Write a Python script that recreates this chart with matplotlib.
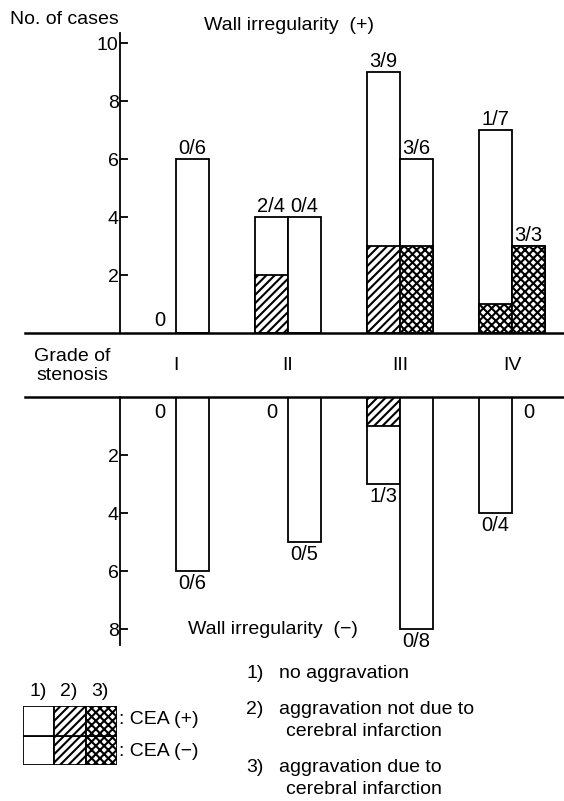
import matplotlib.pyplot as plt
from matplotlib.patches import Rectangle

plt.rcParams['font.family'] = ['Liberation Sans', 'DejaVu Sans']
plt.rcParams['hatch.linewidth'] = 1.5

grades = ['I', 'II', 'III', 'IV']
x_pos = [1, 2, 3, 4]

# wall irregularity (+): total cases, type 2) and type 3) aggravation
pos_plus_total = [0, 4, 9, 7]
pos_plus_t2 = [0, 2, 3, 0]
pos_plus_t3 = [0, 0, 0, 1]
pos_minus_total = [6, 4, 6, 3]
pos_minus_t2 = [0, 0, 0, 0]
pos_minus_t3 = [0, 0, 3, 3]

# wall irregularity (-)
neg_plus_total = [0, 0, 3, 4]
neg_plus_t2 = [0, 0, 1, 0]
neg_plus_t3 = [0, 0, 0, 0]
neg_minus_total = [6, 5, 8, 0]
neg_minus_t2 = [0, 0, 0, 0]
neg_minus_t3 = [0, 0, 0, 0]

W, H = 564, 801
fig = plt.figure(figsize=(W / 100, H / 100), dpi=100)

bw = 0.295
unit = 29.0  # px per case
xlim = (-0.348, 4.464)
fs = 14      # text size
fs_bar = 14.5


def px_axes(left, top, width, height):
    return fig.add_axes([left / W, (H - top - height) / H, width / W, height / H])


ax_top = px_axes(25, 333 - 10.6 * unit, 539, 10.6 * unit)
ax_bot = px_axes(25, 397, 539, 9.2 * unit)


def draw_bars(ax, totals, t2, t3, offset, below):
    for i, x in enumerate(x_pos):
        xc = x + offset
        tot = totals[i]
        if tot > 0:
            ax.bar(xc, tot, bw, color='white', edgecolor='black', lw=1.3)
            if t2[i] > 0:
                ax.bar(xc, t2[i], bw, color='white', edgecolor='black', hatch='////', lw=1.3)
            if t3[i] > 0:
                ax.bar(xc, t3[i], bw, bottom=t2[i], color='white', edgecolor='black',
                       hatch='xxxx', lw=1.3)
            lab = f'{t2[i] + t3[i]}/{tot}'
            if below:
                ax.annotate(lab, (xc, tot), xytext=(0, -2), textcoords='offset points',
                            ha='center', va='top', fontsize=fs_bar)
            else:
                ax.annotate(lab, (xc, tot), xytext=(0, 1), textcoords='offset points',
                            ha='center', va='bottom', fontsize=fs_bar)
        else:
            if below:
                ax.annotate('0', (xc, 0), xytext=(0, -4), textcoords='offset points',
                            ha='center', va='top', fontsize=fs_bar)
            else:
                ax.annotate('0', (xc, 0), xytext=(0, 2), textcoords='offset points',
                            ha='center', va='bottom', fontsize=fs_bar)


draw_bars(ax_top, pos_plus_total, pos_plus_t2, pos_plus_t3, -bw / 2, False)
draw_bars(ax_top, pos_minus_total, pos_minus_t2, pos_minus_t3, bw / 2, False)
draw_bars(ax_bot, neg_plus_total, neg_plus_t2, neg_plus_t3, -bw / 2, True)
draw_bars(ax_bot, neg_minus_total, neg_minus_t2, neg_minus_t3, bw / 2, True)

# top panel axes
ax_top.set_xlim(*xlim)
ax_top.set_ylim(0, 10.6)
ax_top.spines[['top', 'right']].set_visible(False)
ax_top.spines['left'].set_position(('data', 0.5))
ax_top.spines['left'].set_bounds(0, 10.35)
ax_top.spines['bottom'].set_linewidth(1.8)
ax_top.spines['left'].set_linewidth(1.3)
ax_top.set_yticks([2, 4, 6, 8, 10])
ax_top.set_xticks([])
ax_top.tick_params(axis='y', direction='in', length=6, width=1.3, labelsize=14, pad=1)
ax_top.patch.set_visible(False)

# bottom panel axes
ax_bot.set_xlim(*xlim)
ax_bot.set_ylim(9.2, 0)
ax_bot.spines[['bottom', 'right']].set_visible(False)
ax_bot.spines['left'].set_position(('data', 0.5))
ax_bot.spines['left'].set_bounds(0, 8.55)
ax_bot.spines['top'].set_linewidth(1.8)
ax_bot.spines['left'].set_linewidth(1.3)
ax_bot.set_yticks([2, 4, 6, 8])
ax_bot.set_xticks([])
ax_bot.tick_params(axis='y', direction='in', length=6, width=1.3, labelsize=14, pad=1)
ax_bot.patch.set_visible(False)

# grade labels between panels
for x, g in zip(x_pos, grades):
    ax_top.text(x, -32 / unit, g, ha='center', va='center', fontsize=fs)

fig.text(72 / W, 1 - 366 / H, 'Grade of\nstenosis', ha='center', va='center',
         fontsize=fs, linespacing=1.1)
fig.text(10 / W, 1 - 20 / H, 'No. of cases', ha='left', va='center', fontsize=fs)
fig.text(204 / W, 1 - 25 / H, 'Wall irregularity  (+)', ha='left', va='center', fontsize=fs)
fig.text(188 / W, 1 - 630 / H, 'Wall irregularity  (\u2212)', ha='left', va='center', fontsize=fs)

# legend boxes
ax_leg = px_axes(23, 706, 94, 59)
ax_leg.set_xlim(0, 3)
ax_leg.set_ylim(0, 2)
ax_leg.axis('off')
for row in range(2):
    ax_leg.add_patch(Rectangle((0, row), 1, 1, facecolor='white', edgecolor='black', lw=1.3))
    ax_leg.add_patch(Rectangle((1, row), 1, 1, facecolor='white', edgecolor='black', lw=1.3,
                               hatch='////'))
    ax_leg.add_patch(Rectangle((2, row), 1, 1, facecolor='white', edgecolor='black', lw=1.3,
                               hatch='xxxx'))
for i, t in enumerate(['1)', '2)', '3)']):
    fig.text((23 + 31 * i + 15) / W, 1 - 692 / H, t, ha='center', va='center', fontsize=fs)
fig.text(119 / W, 1 - 720 / H, ': CEA (+)', ha='left', va='center', fontsize=fs)
fig.text(119 / W, 1 - 752 / H, ': CEA (\u2212)', ha='left', va='center', fontsize=fs)

# explanation of categories
notes = [(673, '1)', 'no aggravation'),
         (709, '2)', 'aggravation not due to'),
         (767, '3)', 'aggravation due to')]
for y, num, txt in notes:
    fig.text(246 / W, 1 - y / H, num, ha='left', va='center', fontsize=fs)
    fig.text(279 / W, 1 - y / H, txt, ha='left', va='center', fontsize=fs)
fig.text(286 / W, 1 - 732 / H, 'cerebral infarction', ha='left', va='center', fontsize=fs)
fig.text(286 / W, 1 - 789 / H, 'cerebral infarction', ha='left', va='center', fontsize=fs)

fig.savefig('out.png', dpi=100)
